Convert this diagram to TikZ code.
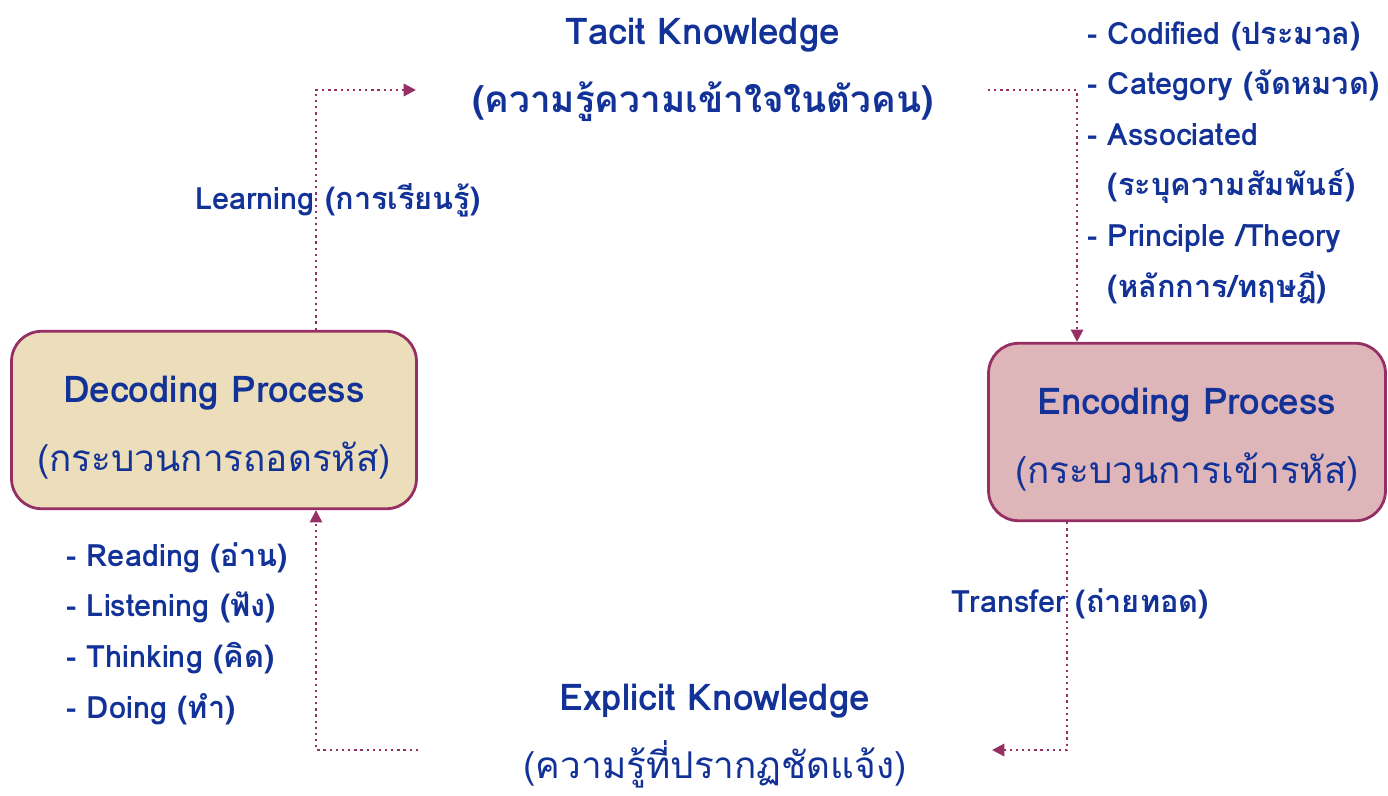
\documentclass[tikz,border=0pt]{standalone}
\usepackage{fontspec}
\setmainfont[Script=Thai]{Loma}
\usetikzlibrary{arrows.meta}
\definecolor{ink}{RGB}{18,50,152}
\definecolor{plum}{RGB}{150,48,100}
\definecolor{sand}{RGB}{236,222,186}
\definecolor{rose}{RGB}{222,182,186}

\begin{document}
\begin{tikzpicture}[x=0.02cm, y=-0.02cm,
		every node/.style={text=ink},
		headtxt/.style={align=center, font=\fontsize{21}{39}\selectfont},
		itemtxt/.style={font=\fontsize{17.5}{28.8}\selectfont\bfseries},
		procbox/.style={headtxt, draw=plum, line width=1.6pt, rounded corners=0.6cm,
			minimum width=8.1cm, minimum height=3.55cm},
		flow/.style={draw=plum, line width=1.3pt, dash pattern=on 1.3pt off 2.2pt,
			-{Triangle[length=7pt,width=7pt]}},
		listing/.style={itemtxt, align=left, anchor=north west, inner sep=0pt}
	]
		\useasboundingbox (0,0) rectangle (1388,795);
		\node (dec) [procbox, fill=sand] at (214,420) 
			{ \rule{0pt}{24pt}\textbf{Decoding Process} \\ (กระบวนการถอดรหัส) };
		\node (enc) [procbox, fill=rose, minimum width=7.94cm] at (1187,432) 
			{ \rule{0pt}{24pt}\textbf{Encoding Process} \\ (กระบวนการเข้ารหัส) };
		\node (tacit) [headtxt] at (703,70) 
			{ \textbf{Tacit Knowledge} \\ \textbf{(ความรู้ความเข้าใจในตัวคน)} };
		\node (explicit) [headtxt] at (715,736) 
			{ \textbf{Explicit Knowledge} \\ (ความรู้ที่ปรากฏชัดแจ้ง) };
		\node (learning) [itemtxt] at (338,200) 
			{ Learning (การเรียนรู้) };
		\node (transfer) [itemtxt] at (1080,604) 
			{ Transfer (ถ่ายทอด) };
		\node (codes) [listing] at (1087,21) 
			{ - Codified (ประมวล) \\ 
			  - Category (จัดหมวด) \\ 
			  - Associated \\ 
			  \phantom{- }(ระบุความสัมพันธ์) \\ 
			  - Principle /Theory \\ 
			  \phantom{- }(หลักการ/ทฤษฎี) };
		\node (skills) [listing] at (66,542) 
			{ - Reading (อ่าน) \\ 
			  - Listening (ฟัง) \\ 
			  - Thinking (คิด) \\ 
			  - Doing (ทำ) };
		\coordinate (tacitin) at (416,90);
		\coordinate (tacitout) at (988,90);
		\coordinate (explin) at (992,750);
		\coordinate (explout) at (418,750);
		\draw [flow] ([xshift=2.04cm]dec.north) |- (tacitin);
		\draw [flow] (tacitout) -| ([xshift=-2.2cm]enc.north);
		\draw [flow] ([xshift=-2.4cm]enc.south) |- (explin);
		\draw [flow] (explout) -| ([xshift=2.04cm]dec.south);
	\end{tikzpicture}
\end{document}
